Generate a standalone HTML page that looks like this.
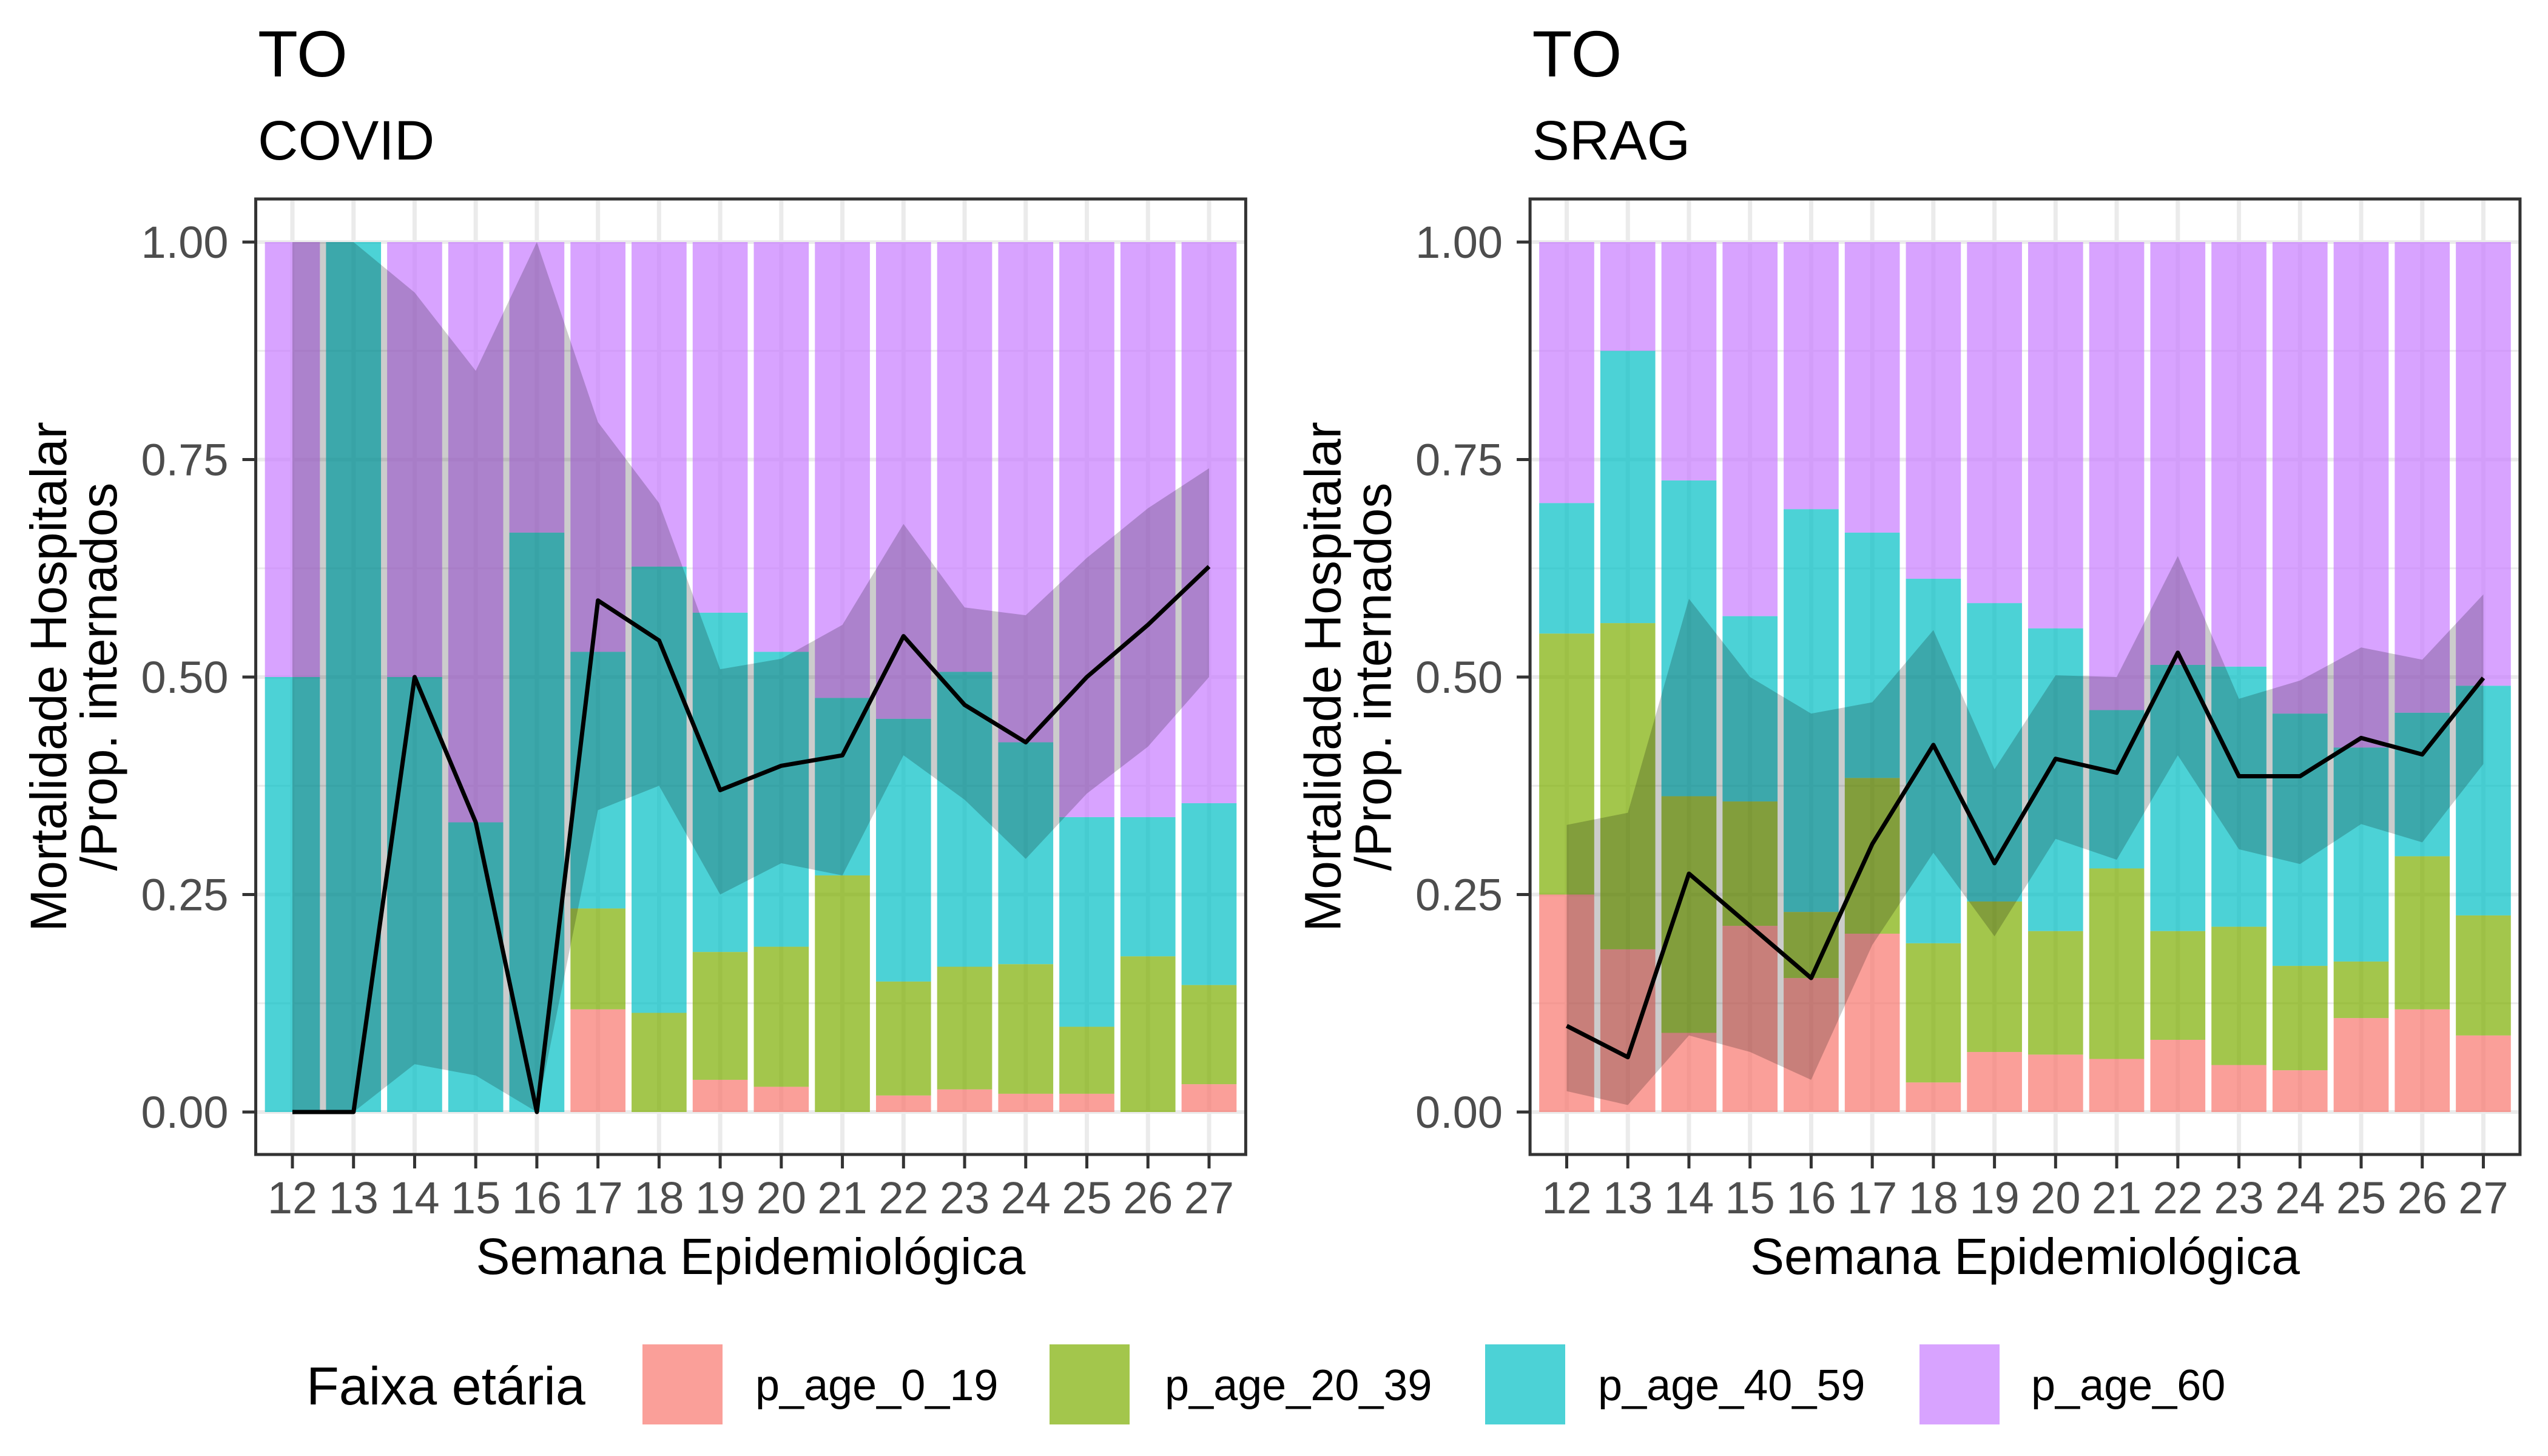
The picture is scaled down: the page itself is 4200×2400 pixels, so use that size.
<!DOCTYPE html>
<html><head><meta charset="utf-8"><style>
html,body{margin:0;padding:0;background:#fff;}
svg{display:block;font-family:"Liberation Sans",Arial,sans-serif;}
</style></head><body>
<svg id="chart" xmlns="http://www.w3.org/2000/svg" width="4200" height="2400" viewBox="0 0 4200 2400">
<rect x="0" y="0" width="4200" height="2400" fill="#fff"/>
<g id="panels"></g>
<g id="legend">
<text x="505" y="2315" font-size="88" fill="#000">Faixa etária</text>
<rect x="1059" y="2216" width="132" height="132" fill="#F8766D" fill-opacity="0.7"/>
<text x="1245" y="2308" font-size="72" fill="#000">p_age_0_19</text>
<rect x="1730" y="2216" width="132" height="132" fill="#7CAE00" fill-opacity="0.7"/>
<text x="1920" y="2308" font-size="72" fill="#000">p_age_20_39</text>
<rect x="2448" y="2216" width="132" height="132" fill="#00BFC4" fill-opacity="0.7"/>
<text x="2634" y="2308" font-size="72" fill="#000">p_age_40_59</text>
<rect x="3164" y="2216" width="132" height="132" fill="#C77CFF" fill-opacity="0.7"/>
<text x="3348" y="2308" font-size="72" fill="#000">p_age_60</text>
</g>
</svg>
<script>
const weeks = [12,13,14,15,16,17,18,19,20,21,22,23,24,25,26,27];
const yTicks = [0, 0.25, 0.5, 0.75, 1];
const yTickLabels = ["0.00","0.25","0.50","0.75","1.00"];
const ageGroups = ["age-0-19","age-20-39","age-40-59","age-60"];
const ageColors = ["#F8766D","#7CAE00","#00BFC4","#C77CFF"];

// COVID panel
const covidAge0 = [0,0,0,0,0,0.118,0,0.037,0.029,0,0.019,0.026,0.021,0.021,0,0.032];
const covidAge20 = [0,0,0,0,0,0.116,0.114,0.147,0.161,0.272,0.131,0.141,0.149,0.077,0.179,0.114];
const covidAge40 = [0.5,1,0.5,0.333,0.666,0.295,0.513,0.39,0.339,0.204,0.302,0.339,0.255,0.241,0.16,0.209];
const covidAge60 = [0.5,0,0.5,0.667,0.334,0.471,0.373,0.426,0.471,0.524,0.548,0.494,0.575,0.661,0.661,0.645];
const covidMort = [0,0,0.5,0.333,0,0.588,0.542,0.37,0.398,0.41,0.547,0.468,0.425,0.5,0.56,0.627];
const covidUpper = [1,1,0.942,0.852,1,0.793,0.70,0.509,0.521,0.56,0.676,0.58,0.571,0.637,0.694,0.74];
const covidLower = [0,0,0.055,0.042,0,0.347,0.375,0.25,0.286,0.272,0.41,0.359,0.291,0.366,0.42,0.5];

// SRAG panel
const sragAge0 = [0.25,0.187,0.091,0.214,0.154,0.205,0.034,0.069,0.066,0.061,0.083,0.054,0.048,0.108,0.118,0.088];
const sragAge20 = [0.30,0.375,0.272,0.143,0.076,0.179,0.16,0.173,0.142,0.219,0.125,0.159,0.12,0.065,0.176,0.138];
const sragAge40 = [0.15,0.313,0.363,0.213,0.463,0.282,0.419,0.343,0.348,0.182,0.306,0.299,0.29,0.246,0.165,0.264];
const sragAge60 = [0.30,0.125,0.274,0.43,0.307,0.334,0.387,0.415,0.444,0.538,0.486,0.488,0.542,0.581,0.541,0.51];
const sragMort = [0.099,0.063,0.274,0.214,0.154,0.308,0.422,0.286,0.406,0.39,0.528,0.386,0.386,0.43,0.411,0.499];
const sragUpper = [0.33,0.344,0.59,0.50,0.458,0.471,0.554,0.394,0.502,0.50,0.639,0.475,0.496,0.534,0.52,0.595];
const sragLower = [0.024,0.008,0.088,0.069,0.037,0.192,0.298,0.202,0.314,0.29,0.41,0.302,0.285,0.331,0.31,0.40];

const NS = "http://www.w3.org/2000/svg";
function mk(tag, attrs, parent){
  const e = document.createElementNS(NS, tag);
  for (const k in attrs) e.setAttribute(k, attrs[k]);
  parent.appendChild(e);
  return e;
}
const root = document.getElementById("panels");

function drawPanel(key, dx, title, subtitle, groups, mort, upper, lower){
  const g = mk("g", {}, root);
  
  
  const step = 100.73;
  const x0 = 482 + dx;
  const xs = w => x0 + (w - weeks[0]) * step;
  const left = xs(weeks[0]) - 0.6*step, right = xs(weeks[weeks.length-1]) + 0.6*step;
  const top = 328, bottom = 1903;
  const ys = v => 1833 - v * 1434;

  const t1 = mk("text", {x: 425+dx, y: 126, "font-size": 108, fill: "#000"}, g);
  t1.textContent = title;
  
  
  const t2 = mk("text", {x: 425+dx, y: 263, "font-size": 92, fill: "#000"}, g);
  t2.textContent = subtitle;
  
  

  for (let i = 0; i < yTicks.length - 1; i++) {
    const mv = (yTicks[i] + yTicks[i+1]) / 2;
    const ln = mk("line", {x1: left, x2: right, y1: ys(mv), y2: ys(mv), stroke: "#ebebeb", "stroke-width": 3}, g);
    
    
  }
  yTicks.forEach(v => {
    const ln = mk("line", {x1: left, x2: right, y1: ys(v), y2: ys(v), stroke: "#ebebeb", "stroke-width": 6}, g);
    
    
  });
  weeks.forEach(w => {
    const ln = mk("line", {x1: xs(w), x2: xs(w), y1: top, y2: bottom, stroke: "#ebebeb", "stroke-width": 7}, g);
    
    
  });

  const bw = 0.9 * step;
  weeks.forEach((w, i) => {
    let cum = 0;
    groups.forEach((arr, gi) => {
      const v = arr[i];
      if (v > 0) {
        const r = mk("rect", {x: xs(w) - bw/2, y: ys(cum + v), width: bw, height: ys(cum) - ys(cum + v), fill: ageColors[gi], "fill-opacity": 0.7}, g);
        
        
      }
      cum += v;
    });
  });

  let d = "";
  weeks.forEach((w, i) => { d += (i ? "L" : "M") + xs(w) + "," + ys(upper[i]); });
  for (let i = weeks.length - 1; i >= 0; i--) d += "L" + xs(weeks[i]) + "," + ys(lower[i]);
  d += "Z";
  const rib = mk("path", {d: d, fill: "#000", "fill-opacity": 0.2}, g);
  
  

  const pts = weeks.map((w, i) => xs(w) + "," + ys(mort[i])).join(" ");
  const pl = mk("polyline", {points: pts, fill: "none", stroke: "#000", "stroke-width": 7, "stroke-linejoin": "round"}, g);
  
  

  const br = mk("rect", {x: left, y: top, width: right - left, height: bottom - top, fill: "none", stroke: "#333", "stroke-width": 5}, g);
  
  

  yTicks.forEach((v, i) => {
    const tk = mk("line", {x1: left - 22, x2: left, y1: ys(v), y2: ys(v), stroke: "#333", "stroke-width": 5}, g);
    
    
    const tl = mk("text", {x: left - 45, y: ys(v) + 26, "font-size": 74, fill: "#4d4d4d", "text-anchor": "end"}, g);
    tl.textContent = yTickLabels[i];
    
    
  });
  weeks.forEach(w => {
    const tk = mk("line", {x1: xs(w), x2: xs(w), y1: bottom, y2: bottom + 23, stroke: "#333", "stroke-width": 5}, g);
    
    
    const tl = mk("text", {x: xs(w), y: 2000, "font-size": 74, fill: "#4d4d4d", "text-anchor": "middle"}, g);
    tl.textContent = String(w);
    
    
  });

  const xt = mk("text", {x: (left + right) / 2, y: 2100, "font-size": 84, fill: "#000", "text-anchor": "middle"}, g);
  xt.textContent = "Semana Epidemiológica";
  
  

  const cy = (top + bottom) / 2;
  const y1 = mk("text", {transform: "translate(" + (109 + dx) + "," + cy + ") rotate(-90)", "font-size": 84, fill: "#000", "text-anchor": "middle"}, g);
  y1.textContent = "Mortalidade Hospitalar";
  
  
  const y2 = mk("text", {transform: "translate(" + (192 + dx) + "," + cy + ") rotate(-90)", "font-size": 84, fill: "#000", "text-anchor": "middle"}, g);
  y2.textContent = "/Prop. internados";
  
  
}

drawPanel("covid", 0, "TO", "COVID", [covidAge0, covidAge20, covidAge40, covidAge60], covidMort, covidUpper, covidLower);
drawPanel("srag", 2100.5, "TO", "SRAG", [sragAge0, sragAge20, sragAge40, sragAge60], sragMort, sragUpper, sragLower);
</script>
</body></html>
